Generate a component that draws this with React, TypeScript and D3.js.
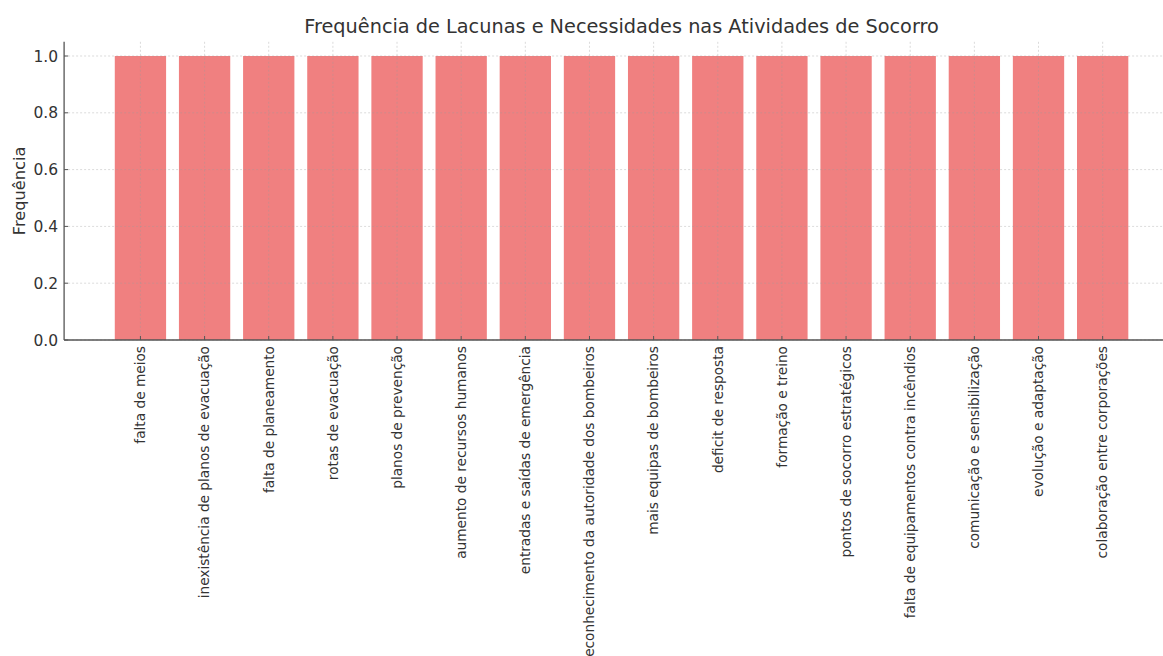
import React from "react";
import * as d3 from "d3";

const categories = [
  "falta de meios",
  "inexistência de planos de evacuação",
  "falta de planeamento",
  "rotas de evacuação",
  "planos de prevenção",
  "aumento de recursos humanos",
  "entradas e saídas de emergência",
  "reconhecimento da autoridade dos bombeiros",
  "mais equipas de bombeiros",
  "deficit de resposta",
  "formação e treino",
  "pontos de socorro estratégicos",
  "falta de equipamentos contra incêndios",
  "comunicação e sensibilização",
  "evolução e adaptação",
  "colaboração entre corporações",
];
const values = [1, 1, 1, 1, 1, 1, 1, 1, 1, 1, 1, 1, 1, 1, 1, 1];
const yTicks = [0, 0.2, 0.4, 0.6, 0.8, 1.0];

const W = 1163;
const H = 656;
const left = 64.1;
const right = 1179;
const top = 41.8;
const bottom = 340;

export default function App() {
  const n = categories.length;
  const x = d3.scaleLinear().domain([-1.19, n - 1 + 1.19]).range([left, right]);
  const y = d3.scaleLinear().domain([0, 1.05]).range([bottom, top]);
  const bw = (x(1) - x(0)) * 0.8;
  const font = "DejaVu Sans, sans-serif";
  return (
    <svg width={W} height={H} style={{ position: "absolute", left: 0, top: 0, background: "#fff" }}>
      <text x={(left + right) / 2} y={33} textAnchor="middle" fontFamily={font} fontSize={19.3} fill="#333">
        Frequência de Lacunas e Necessidades nas Atividades de Socorro
      </text>
      {values.map((v, i) => (
        <rect key={i} x={x(i) - bw / 2} y={y(v)} width={bw} height={y(0) - y(v)} fill="#F08080" />
      ))}
      {yTicks.map((t) => (
        <line key={"gy" + t} x1={left} x2={W} y1={y(t)} y2={y(t)} stroke="#999" strokeOpacity={0.45} strokeWidth={0.8} strokeDasharray="2,2" />
      ))}
      {categories.map((c, i) => (
        <line key={"gx" + i} x1={x(i)} x2={x(i)} y1={top} y2={bottom} stroke="#999" strokeOpacity={0.45} strokeWidth={0.8} strokeDasharray="2,2" />
      ))}
      <line x1={left} x2={left} y1={top} y2={bottom} stroke="#555" strokeWidth={1.3} />
      <line x1={left} x2={W} y1={bottom} y2={bottom} stroke="#555" strokeWidth={1.3} />
      {yTicks.map((t) => (
        <g key={"ty" + t}>
          <line x1={left} x2={left + 4} y1={y(t)} y2={y(t)} stroke="#555" strokeWidth={1} />
          <text x={left - 6} y={y(t)} dy="0.36em" textAnchor="end" fontFamily={font} fontSize={15.5} fill="#333">
            {t.toFixed(1)}
          </text>
        </g>
      ))}
      {categories.map((c, i) => (
        <g key={"tx" + i}>
          <line x1={x(i)} x2={x(i)} y1={bottom} y2={bottom - 4} stroke="#555" strokeWidth={1} />
          <text
            transform={`translate(${x(i)},${bottom + 6}) rotate(-90)`}
            dy="0.35em"
            textAnchor="end"
            fontFamily={font}
            fontSize={13.7}
            fill="#333"
          >
            {c}
          </text>
        </g>
      ))}
      <text transform={`translate(25,${(top + bottom) / 2}) rotate(-90)`} textAnchor="middle" fontFamily={font} fontSize={16.2} fill="#333">
        Frequência
      </text>
    </svg>
  );
}
